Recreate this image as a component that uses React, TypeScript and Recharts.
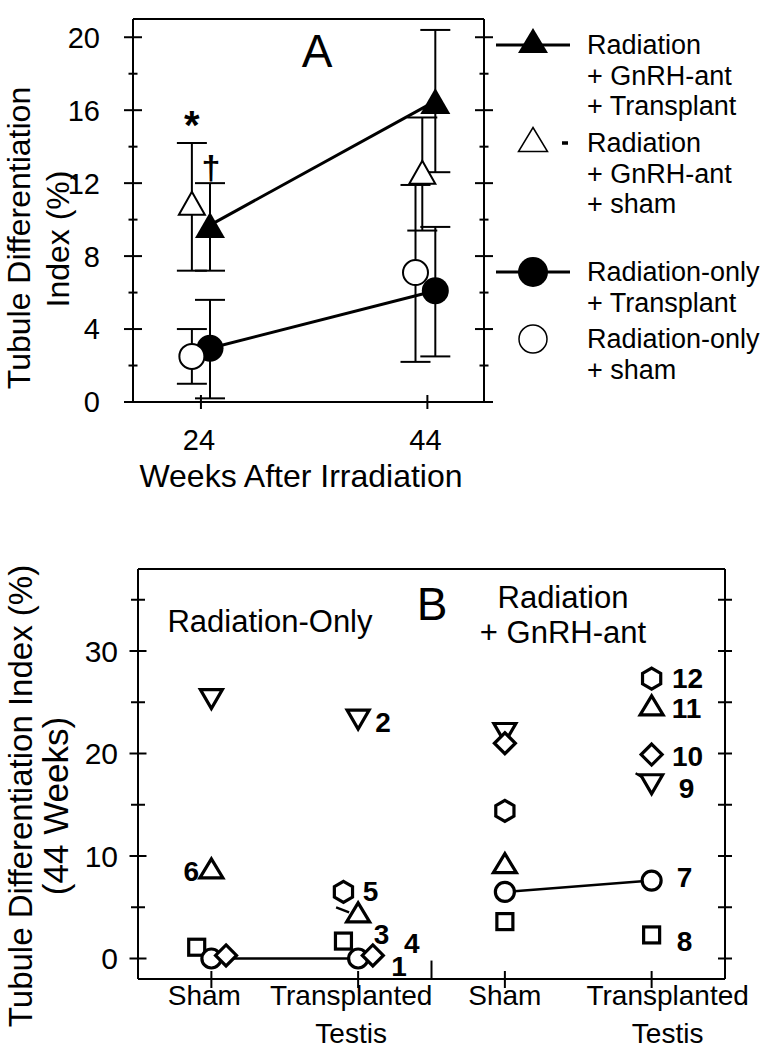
import React from "react";
import { ScatterChart, Scatter, XAxis, YAxis, ErrorBar, ReferenceLine } from "recharts";

const FONT = "'Liberation Sans', Arial, Helvetica, sans-serif";
const INK = "#000";

// ---- Panel A: tubule differentiation index vs weeks after irradiation ----
const weekTicks = [24, 44];
const indexTicks = [0, 2, 4, 6, 8, 10, 12, 14, 16, 18, 20];

// Radiation + GnRH-ant + Transplant (filled triangle)
const gtX = [24.8, 44.7];
const gtVal = [9.7, 16.5];
const gtLo = [7.2, 12.6];
const gtHi = [12.0, 20.4];
const gtMark = ["\u2020", ""];

// Radiation + GnRH-ant + sham (open triangle)
const gsX = [23.2, 43.55];
const gsVal = [10.9, 12.6];
const gsLo = [7.2, 9.4];
const gsHi = [14.2, 15.6];
const gsMark = ["*", ""];

// Radiation-only + Transplant (filled circle)
const rtX = [24.8, 44.7];
const rtVal = [2.95, 6.1];
const rtLo = [0.2, 2.5];
const rtHi = [5.6, 9.6];

// Radiation-only + sham (open circle)
const rsX = [23.2, 42.95];
const rsVal = [2.5, 7.1];
const rsLo = [1.0, 2.2];
const rsHi = [4.0, 11.9];

const legendA = [
  ["Radiation", "+ GnRH-ant", "+ Transplant"],
  ["Radiation", "+ GnRH-ant", "+ sham"],
  ["Radiation-only", "+ Transplant"],
  ["Radiation-only", "+ sham"],
];

// ---- Panel B: individual animals at 44 weeks ----
const groupTicks = [1, 2, 3, 4];
const groupNames = [["Sham"], ["Transplanted", "Testis"], ["Sham"], ["Transplanted", "Testis"]];
const bTicks = [0, 5, 10, 15, 20, 25, 30, 35];

const sqGroup = [1, 2, 3, 4];
const sqVal = [1.1, 1.7, 3.6, 2.3];
const sqTag = ["", "3", "", "8"];

const ciGroupRO = [1, 2];
const ciValRO = [0, 0];
const ciTagRO = ["", "1"];
const ciGroupGn = [3, 4];
const ciValGn = [6.5, 7.6];
const ciTagGn = ["", "7"];

const diGroup = [1, 2, 3, 4];
const diVal = [0.3, 0.3, 21.0, 19.9];
const diTag = ["", "4", "", "10"];

const trGroup = [1, 2, 3, 4];
const trVal = [8.8, 4.5, 9.3, 24.7];
const trTag = ["6", "", "", "11"];

const ivGroup = [1, 2, 3, 4];
const ivVal = [25.3, 23.3, 22.0, 17.0];
const ivTag = ["", "2", "", "9"];

const hxGroup = [2, 3, 4];
const hxVal = [6.5, 14.4, 27.3];
const hxTag = ["5", "", "12"];

// layout: small sideways dodges inside a group, label offsets (px), leader ticks
const DODGE: Record<string, number[]> = {
  sq: [-0.1, -0.1, 0, 0],
  di: [0.1, 0.1, 0, 0],
  hx: [-0.1, 0, 0],
};
const TAG_OFFSET: Record<string, number[]> = {
  "1": [41, 7], "2": [25, 2], "3": [38, -7], "4": [39, -13], "5": [27, -1], "6": [-20, 3],
  "7": [33, -4], "8": [33, 6], "9": [35, 4], "10": [36, 1], "11": [35, 3], "12": [36, -1],
};
const LEADER: Record<string, number[][]> = {
  tr1: [[-22, -5], [-9, 0]],
  iv3: [[-16, -11], [-6, -5]],
};

const withErr = (xs: number[], vals: number[], lo: number[], hi: number[], marks?: string[]) =>
  xs.map((x, i) => ({ x, y: vals[i], err: [vals[i] - lo[i], hi[i] - vals[i]], mark: marks ? marks[i] : "" }));

const rows = (key: string, groups: number[], vals: number[], tags: string[]) =>
  groups.map((g, i) => ({ x: g + ((DODGE[key] || [])[i] || 0), y: vals[i], tag: tags[i], id: key + i }));

const triUp = (cx: number, cy: number, w: number, h: number) =>
  `M${cx},${cy - h / 2}L${cx + w / 2},${cy + h / 2}L${cx - w / 2},${cy + h / 2}Z`;
const triDown = (cx: number, cy: number, w: number, h: number) =>
  `M${cx - w / 2},${cy - h / 2}L${cx + w / 2},${cy - h / 2}L${cx},${cy + h / 2}Z`;
const hexPath = (cx: number, cy: number, r: number) =>
  [-90, -30, 30, 90, 150, 210]
    .map((a, i) => `${i ? "L" : "M"}${cx + r * Math.cos((a * Math.PI) / 180)},${cy + r * Math.sin((a * Math.PI) / 180)}`)
    .join("") + "Z";
const diaPath = (cx: number, cy: number, r: number) =>
  `M${cx},${cy - r}L${cx + r},${cy}L${cx},${cy + r}L${cx - r},${cy}Z`;

// ---- panel A marks ----
const noteA = (p: any, dx: number, dy: number, size: number) =>
  p.payload.mark ? (
    <text x={p.cx + dx} y={p.cy + dy} textAnchor="middle" fontSize={size} fontWeight="bold" fill={INK}>
      {p.payload.mark}
    </text>
  ) : null;

const FilledTri = (p: any) => (
  <g>
    <path d={triUp(p.cx, p.cy, 30, 26)} fill={INK} />
    {noteA(p, 1, -46, 34)}
  </g>
);
const OpenTri = (p: any) => (
  <g>
    <path d={triUp(p.cx, p.cy, 26, 23)} fill="#fff" stroke={INK} strokeWidth={2} />
    {noteA(p, 0, -64, 40)}
  </g>
);
const FilledDot = (p: any) => <circle cx={p.cx} cy={p.cy} r={13.5} fill={INK} />;
const OpenDot = (p: any) => <circle cx={p.cx} cy={p.cy} r={12.5} fill="#fff" stroke={INK} strokeWidth={2} />;

const IndexTick = ({ x, y, payload }: any) => {
  const major = payload.value % 4 === 0;
  const t = major ? 9 : 4.5;
  return (
    <g>
      <line x1={x - t} x2={x + t} y1={y} y2={y} stroke={INK} strokeWidth={2} />
      {major && (
        <text x={x - 33} y={y} dy="0.36em" textAnchor="end" fontSize={29} fill={INK}>
          {payload.value}
        </text>
      )}
    </g>
  );
};
const IndexTickRight = ({ x, y, payload }: any) => {
  const t = payload.value % 4 === 0 ? 9 : 4.5;
  return <line x1={x - t} x2={x + t} y1={y} y2={y} stroke={INK} strokeWidth={2} />;
};
const WeekTick = ({ x, y, payload }: any) => (
  <g>
    <line x1={x} x2={x} y1={y - 7} y2={y + 7} stroke={INK} strokeWidth={2} />
    <text x={x - 2} y={y + 48} textAnchor="middle" fontSize={29} fill={INK}>
      {payload.value}
    </text>
  </g>
);

function PanelA() {
  return (
    <div style={{ position: "relative", width: 760, height: 540 }}>
      <ScatterChart width={760} height={540} margin={{ top: 19, right: 266, bottom: 78, left: 0 }}>
        <XAxis dataKey="x" type="number" domain={[18, 49]} ticks={weekTicks} allowDataOverflow
          axisLine={{ stroke: INK, strokeWidth: 2 }} tickLine={false} tickSize={0} tickMargin={0}
          tick={<WeekTick />} interval={0} height={60} />
        <YAxis yAxisId="l" dataKey="y" type="number" domain={[0, 21]} ticks={indexTicks} allowDataOverflow
          axisLine={{ stroke: INK, strokeWidth: 2 }} tickLine={false} tickSize={0} tickMargin={0}
          tick={<IndexTick />} interval={0} width={133} />
        <YAxis yAxisId="r" orientation="right" type="number" domain={[0, 21]} ticks={indexTicks} allowDataOverflow
          axisLine={{ stroke: INK, strokeWidth: 2 }} tickLine={false} tickSize={0} tickMargin={0}
          tick={<IndexTickRight />} interval={0} width={10} />
        <ReferenceLine yAxisId="l" y={21} stroke={INK} strokeWidth={2} />
        <Scatter yAxisId="l" data={withErr(gsX, gsVal, gsLo, gsHi, gsMark)} shape={OpenTri} isAnimationActive={false}>
          <ErrorBar dataKey="err" direction="y" width={15} stroke={INK} strokeWidth={2} />
        </Scatter>
        <Scatter yAxisId="l" data={withErr(gtX, gtVal, gtLo, gtHi, gtMark)} shape={FilledTri}
          line={{ stroke: INK, strokeWidth: 3 }} isAnimationActive={false}>
          <ErrorBar dataKey="err" direction="y" width={15} stroke={INK} strokeWidth={2} />
        </Scatter>
        <Scatter yAxisId="l" data={withErr(rtX, rtVal, rtLo, rtHi)} shape={FilledDot}
          line={{ stroke: INK, strokeWidth: 3 }} isAnimationActive={false}>
          <ErrorBar dataKey="err" direction="y" width={15} stroke={INK} strokeWidth={2} />
        </Scatter>
        <Scatter yAxisId="l" data={withErr(rsX, rsVal, rsLo, rsHi)} shape={OpenDot} isAnimationActive={false}>
          <ErrorBar dataKey="err" direction="y" width={15} stroke={INK} strokeWidth={2} />
        </Scatter>
      </ScatterChart>
      <svg width={760} height={540} style={{ position: "absolute", left: 0, top: 0, pointerEvents: "none" }}>
        <text x={317} y={67} textAnchor="middle" fontSize={46} fill={INK}>A</text>
        <text x={301} y={487} textAnchor="middle" fontSize={32} fill={INK}>Weeks After Irradiation</text>
        <text transform="translate(30,238) rotate(-90)" textAnchor="middle" fontSize={32} fill={INK}>
          Tubule Differentiation
        </text>
        <text transform="translate(69,239) rotate(-90)" textAnchor="middle" fontSize={32} fill={INK}>
          Index (%)
        </text>
        {/* legend */}
        <line x1={496} x2={570} y1={45} y2={45} stroke={INK} strokeWidth={3} />
        <path d={triUp(533, 40.5, 30, 25)} fill={INK} />
        <path d={triUp(533, 139.5, 29, 24)} fill="#fff" stroke={INK} strokeWidth={1.5} />
        <line x1={562} x2={568} y1={143} y2={143} stroke={INK} strokeWidth={3.5} />
        <line x1={496} x2={570} y1={272} y2={272} stroke={INK} strokeWidth={3} />
        <circle cx={533} cy={272} r={15} fill={INK} />
        <circle cx={533} cy={339} r={14} fill="#fff" stroke={INK} strokeWidth={1.5} />
        {legendA.map((lines, k) =>
          lines.map((s, j) => (
            <text key={k + "-" + j} x={587} y={[54, 152, 281, 348][k] + j * 30.5} fontSize={27} fill={INK}>
              {s}
            </text>
          ))
        )}
      </svg>
    </div>
  );
}

// ---- panel B marks ----
const tagText = (p: any) => {
  const tag = p.payload.tag;
  if (!tag) return null;
  const [dx, dy] = TAG_OFFSET[tag];
  return (
    <text x={p.cx + dx} y={p.cy + dy} dy="0.36em" textAnchor="middle" fontSize={28} fontWeight="bold" fill={INK}>
      {tag}
    </text>
  );
};
const leader = (p: any) => {
  const seg = LEADER[p.payload.id];
  if (!seg) return null;
  return (
    <line x1={p.cx + seg[0][0]} y1={p.cy + seg[0][1]} x2={p.cx + seg[1][0]} y2={p.cy + seg[1][1]}
      stroke={INK} strokeWidth={2.5} />
  );
};
const mk = (draw: (cx: number, cy: number) => React.ReactNode) => (p: any) => (
  <g>
    {leader(p)}
    {draw(p.cx, p.cy)}
    {tagText(p)}
  </g>
);
const SW = 3.2;
const SquareB = mk((cx, cy) => (
  <rect x={cx - 8} y={cy - 8} width={16} height={16} fill="#fff" stroke={INK} strokeWidth={SW} />
));
const CircleB = mk((cx, cy) => <circle cx={cx} cy={cy} r={9.5} fill="#fff" stroke={INK} strokeWidth={SW} />);
const DiamondB = mk((cx, cy) => <path d={diaPath(cx, cy, 10.5)} fill="#fff" stroke={INK} strokeWidth={SW} />);
const TriB = mk((cx, cy) => <path d={triUp(cx, cy, 23, 19)} fill="#fff" stroke={INK} strokeWidth={SW} />);
const InvB = mk((cx, cy) => <path d={triDown(cx, cy, 22, 19)} fill="#fff" stroke={INK} strokeWidth={SW} />);
const HexB = mk((cx, cy) => <path d={hexPath(cx, cy, 10.5)} fill="#fff" stroke={INK} strokeWidth={SW} />);

const BTick = ({ x, y, payload }: any) => {
  const major = payload.value % 10 === 0;
  const t = major ? 8.5 : 7;
  return (
    <g>
      <line x1={x - t} x2={x + t} y1={y} y2={y} stroke={INK} strokeWidth={2} />
      {major && (
        <text x={x - 20} y={y} dy="0.36em" textAnchor="end" fontSize={30} fill={INK}>
          {payload.value}
        </text>
      )}
    </g>
  );
};
const BTickRight = ({ x, y }: any) => <line x1={x - 7} x2={x + 7} y1={y} y2={y} stroke={INK} strokeWidth={2} />;
const NAME_NUDGE = [-7, -7, 0, 16];
const GroupTick = ({ x, y, payload }: any) => {
  const k = groupTicks.indexOf(payload.value);
  return (
    <g>
      <line x1={x} x2={x} y1={y - 8} y2={y + 9} stroke={INK} strokeWidth={2} />
      {groupNames[k].map((s, j) => (
        <text key={s} x={x + NAME_NUDGE[k]} y={y + 26 + j * 38} textAnchor="middle" fontSize={28} fill={INK}>
          {s}
        </text>
      ))}
    </g>
  );
};

function PanelB() {
  return (
    <div style={{ position: "relative", width: 760, height: 510 }}>
      <ScatterChart width={760} height={510} margin={{ top: 29, right: 25, bottom: 0, left: 0 }}>
        <XAxis dataKey="x" type="number" domain={[0.5, 4.5]} ticks={groupTicks} allowDataOverflow
          axisLine={{ stroke: INK, strokeWidth: 2 }} tickLine={false} tickSize={0} tickMargin={0}
          tick={<GroupTick />} interval={0} height={71} />
        <YAxis yAxisId="l" dataKey="y" type="number" domain={[-2, 38]} ticks={bTicks} allowDataOverflow
          axisLine={{ stroke: INK, strokeWidth: 2 }} tickLine={false} tickSize={0} tickMargin={0}
          tick={<BTick />} interval={0} width={138} />
        <YAxis yAxisId="r" orientation="right" type="number" domain={[-2, 38]} ticks={bTicks} allowDataOverflow
          axisLine={{ stroke: INK, strokeWidth: 2 }} tickLine={false} tickSize={0} tickMargin={0}
          tick={<BTickRight />} interval={0} width={10} />
        <ReferenceLine yAxisId="l" y={38} stroke={INK} strokeWidth={2} />
        <ReferenceLine yAxisId="l" segment={[{ x: 2.5, y: -2 }, { x: 2.5, y: -0.2 }]} stroke={INK} strokeWidth={2} />
        <Scatter yAxisId="l" data={rows("sq", sqGroup, sqVal, sqTag)} shape={SquareB} isAnimationActive={false} />
        <Scatter yAxisId="l" data={rows("ca", ciGroupRO, ciValRO, ciTagRO)} shape={CircleB}
          line={{ stroke: INK, strokeWidth: 2.5 }} isAnimationActive={false} />
        <Scatter yAxisId="l" data={rows("cb", ciGroupGn, ciValGn, ciTagGn)} shape={CircleB}
          line={{ stroke: INK, strokeWidth: 2.5 }} isAnimationActive={false} />
        <Scatter yAxisId="l" data={rows("iv", ivGroup, ivVal, ivTag)} shape={InvB} isAnimationActive={false} />
        <Scatter yAxisId="l" data={rows("di", diGroup, diVal, diTag)} shape={DiamondB} isAnimationActive={false} />
        <Scatter yAxisId="l" data={rows("tr", trGroup, trVal, trTag)} shape={TriB} isAnimationActive={false} />
        <Scatter yAxisId="l" data={rows("hx", hxGroup, hxVal, hxTag)} shape={HexB} isAnimationActive={false} />
      </ScatterChart>
      <svg width={760} height={510} style={{ position: "absolute", left: 0, top: 0, pointerEvents: "none" }}>
        <text x={432} y={80} textAnchor="middle" fontSize={46} fill={INK}>B</text>
        <text x={563} y={68} textAnchor="middle" fontSize={31} fill={INK}>Radiation</text>
        <text x={563} y={103} textAnchor="middle" fontSize={31} fill={INK}>+ GnRH-ant</text>
        <text x={270} y={92} textAnchor="middle" fontSize={31} fill={INK}>Radiation-Only</text>
        <text transform="translate(32,256) rotate(-90)" textAnchor="middle" fontSize={33} fill={INK}>
          Tubule Differentiation Index (%)
        </text>
        <text transform="translate(68,266) rotate(-90)" textAnchor="middle" fontSize={35} fill={INK}>
          (44 Weeks)
        </text>
      </svg>
    </div>
  );
}

export default function App() {
  return (
    <div style={{ position: "absolute", left: 0, top: 0, width: 760, height: 1050, background: "#fff", fontFamily: FONT, overflow: "hidden" }}>
      <div style={{ position: "absolute", left: 0, top: 0 }}>
        <PanelA />
      </div>
      <div style={{ position: "absolute", left: 0, top: 540 }}>
        <PanelB />
      </div>
    </div>
  );
}
